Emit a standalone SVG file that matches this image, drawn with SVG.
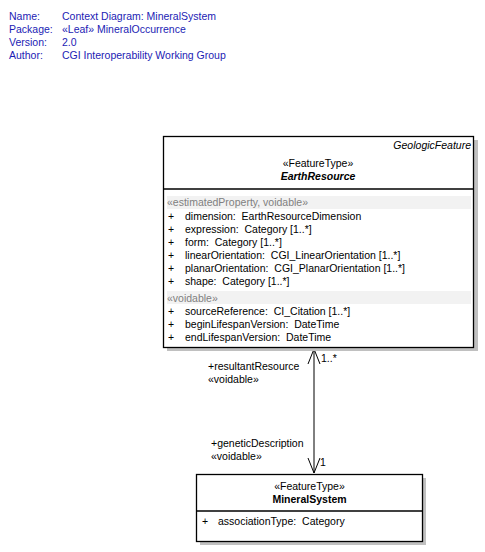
<svg xmlns="http://www.w3.org/2000/svg" width="485" height="552" viewBox="0 0 485 552">
  <style>
    text { font-family: "Liberation Sans", Arial, sans-serif; font-size: 10.5px; fill: #000; white-space: pre; }
    .meta { fill: #1c1cb4; }
    .shadow { fill: #c0c0c0; }
    .box { fill: #fff; stroke: #000; stroke-width: 1.3; }
    .sep { stroke: #000; stroke-width: 1.3; }
    .band { fill: #f2f2f2; }
    .stereo-gray { fill: #808080; }
    .mid { text-anchor: middle; }
    .conn { stroke: #000; stroke-width: 1; fill: none; }
  </style>

  <!-- diagram properties -->
  <g id="properties">
    <text class="meta" x="9" y="20">Name:</text>
    <text class="meta" x="62" y="20">Context Diagram: MineralSystem</text>
    <text class="meta" x="9" y="33">Package:</text>
    <text class="meta" x="62" y="33">«Leaf» MineralOccurrence</text>
    <text class="meta" x="9" y="46">Version:</text>
    <text class="meta" x="62" y="46">2.0</text>
    <text class="meta" x="9" y="59">Author:</text>
    <text class="meta" x="62" y="59">CGI Interoperability Working Group</text>
  </g>

  <!-- association between EarthResource and MineralSystem -->
  <g id="connectors">
    <line class="conn" x1="314" y1="349" x2="314" y2="473"/>
    <polyline class="conn" points="308,364 314,349 320,364"/>
    <polyline class="conn" points="308,458 314,473 320,458"/>
    <text x="208" y="370">+resultantResource</text>
    <text x="208" y="383">«voidable»</text>
    <text x="321" y="362">1..*</text>
    <text x="211" y="447">+geneticDescription</text>
    <text x="211" y="460">«voidable»</text>
    <text x="320" y="466">1</text>
  </g>

  <!-- EarthResource class -->
  <g id="EarthResource">
    <rect class="shadow" x="167" y="140" width="311" height="211"/>
    <rect class="box" x="163.5" y="136.5" width="310" height="211"/>
    <text x="471" y="149" text-anchor="end" font-style="italic">GeologicFeature</text>
    <text class="mid" x="318" y="167">«FeatureType»</text>
    <text class="mid" x="318" y="180" font-weight="bold" font-style="italic">EarthResource</text>
    <line class="sep" x1="163.5" y1="189" x2="473.5" y2="189"/>
    <rect class="band" x="167" y="196" width="304" height="13"/>
    <text class="stereo-gray" x="167" y="206">«estimatedProperty, voidable»</text>
    <text x="168" y="220">+</text><text x="185" y="220">dimension:  EarthResourceDimension</text>
    <text x="168" y="233">+</text><text x="185" y="233">expression:  Category [1..*]</text>
    <text x="168" y="246">+</text><text x="185" y="246">form:  Category [1..*]</text>
    <text x="168" y="259">+</text><text x="185" y="259">linearOrientation:  CGI_LinearOrientation [1..*]</text>
    <text x="168" y="272">+</text><text x="185" y="272">planarOrientation:  CGI_PlanarOrientation [1..*]</text>
    <text x="168" y="285">+</text><text x="185" y="285">shape:  Category [1..*]</text>
    <rect class="band" x="167" y="291" width="304" height="13"/>
    <text class="stereo-gray" x="167" y="302">«voidable»</text>
    <text x="168" y="315">+</text><text x="185" y="315">sourceReference:  CI_Citation [1..*]</text>
    <text x="168" y="328">+</text><text x="185" y="328">beginLifespanVersion:  DateTime</text>
    <text x="168" y="341">+</text><text x="185" y="341">endLifespanVersion:  DateTime</text>
  </g>

  <!-- MineralSystem class -->
  <g id="MineralSystem">
    <rect class="shadow" x="200" y="478" width="226" height="67"/>
    <rect class="box" x="196.5" y="474.5" width="226" height="67"/>
    <text class="mid" x="309.5" y="490">«FeatureType»</text>
    <text class="mid" x="309.5" y="503" font-weight="bold">MineralSystem</text>
    <line class="sep" x1="196.5" y1="511" x2="422.5" y2="511"/>
    <text x="202" y="525">+</text><text x="218" y="525">associationType:  Category</text>
  </g>
</svg>
